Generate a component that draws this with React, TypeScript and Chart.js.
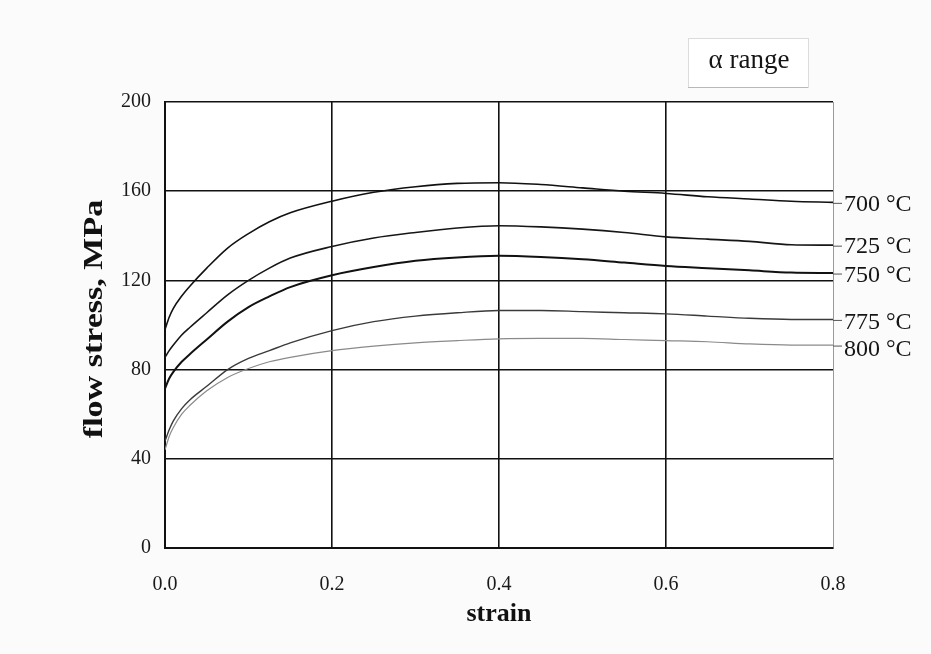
import React, { useEffect, useRef } from "react";
import { Chart, registerables } from "chart.js";

Chart.register(...registerables);

const strain = [0, 0.005, 0.01, 0.02, 0.03, 0.05, 0.075, 0.1, 0.125, 0.15, 0.2, 0.25, 0.3, 0.35, 0.4, 0.45, 0.5, 0.55, 0.6, 0.65, 0.7, 0.75, 0.8];

const stress700 = [98, 103.5, 107.5, 113, 117.5, 125.5, 134.5, 141, 146.3, 150.3, 155.5, 159.5, 162, 163.5, 163.8, 163, 161.5, 160, 159, 157.5, 156.5, 155.5, 155];
const stress725 = [85.5, 88.5, 91, 95.5, 99, 105.5, 113.5, 120, 125.5, 130, 135.2, 139, 141.5, 143.5, 144.5, 144, 143, 141.5, 139.5, 138.5, 137.5, 136, 135.8];
const stress750 = [71.5, 76, 79, 83.5, 87, 93.5, 101.5, 108, 112.8, 117, 122.3, 126, 128.8, 130.3, 131, 130.5, 129.5, 128, 126.5, 125.5, 124.5, 123.5, 123.3];
const stress775 = [48, 53, 57, 62.5, 66.5, 72.5, 80, 85, 88.5, 92, 97.5, 101.5, 104, 105.5, 106.5, 106.5, 106, 105.5, 105, 104, 103, 102.5, 102.5];
const stress800 = [44, 50, 54, 60, 64, 70.5, 76.5, 80.5, 83.5, 85.5, 88.5, 90.5, 92, 93, 93.8, 94, 94, 93.5, 93, 92.5, 91.5, 91, 91];

const seriesLabels = ["700 °C", "725 °C", "750 °C", "775 °C", "800 °C"];
const seriesValues = [stress700, stress725, stress750, stress775, stress800];
const seriesColors = ["#111111", "#161616", "#111111", "#3a3a3a", "#8a8a8a"];
const seriesWidths = [1.6, 1.6, 2, 1.4, 1.2];
const labelNudge = [0, 0, 1, 1, 3];

const xTicks = [0, 0.2, 0.4, 0.6, 0.8];
const yTicks = [0, 40, 80, 120, 160, 200];

const xTitle = "strain";
const yTitle = "flow stress, MPa";
const boxText = "α range";

const SERIF = "'Liberation Serif', 'DejaVu Serif', serif";

export default function App() {
  const ref = useRef<HTMLCanvasElement | null>(null);

  useEffect(() => {
    if (!ref.current) return;

    const decor = {
      id: "decor",
      beforeDraw(chart: any) {
        const { ctx, chartArea } = chart;
        ctx.save();
        ctx.fillStyle = "#fbfbfb";
        ctx.fillRect(0, 0, chart.width, chart.height);
        ctx.fillStyle = "#ffffff";
        ctx.fillRect(chartArea.left, chartArea.top, chartArea.right - chartArea.left, chartArea.bottom - chartArea.top);
        ctx.restore();
      },
      afterDraw(chart: any) {
        const { ctx, chartArea, scales } = chart;
        const ys = scales.y;
        ctx.save();
        // right-side series labels
        ctx.font = "24px " + SERIF;
        ctx.textBaseline = "middle";
        ctx.textAlign = "left";
        chart.data.datasets.forEach((ds: any, i: number) => {
          const last = ds.data[ds.data.length - 1];
          const y = ys.getPixelForValue(last.y) + 1;
          ctx.strokeStyle = "#555";
          ctx.lineWidth = 1;
          ctx.beginPath();
          ctx.moveTo(chartArea.right, y);
          ctx.lineTo(chartArea.right + 9, y);
          ctx.stroke();
          ctx.fillStyle = "#151515";
          ctx.fillText(seriesLabels[i], chartArea.right + 11, y + 1 + labelNudge[i]);
        });
        // y title, stretched along its length
        ctx.save();
        const cy = (chartArea.top + chartArea.bottom) / 2 - 6;
        ctx.translate(95, cy);
        ctx.rotate(-Math.PI / 2);
        ctx.scale(1.26, 1);
        ctx.font = "bold 27px " + SERIF;
        ctx.textAlign = "center";
        ctx.textBaseline = "middle";
        ctx.fillStyle = "#111";
        ctx.fillText(yTitle, 0, 0);
        ctx.restore();
        // alpha range box
        ctx.fillStyle = "#ffffff";
        ctx.fillRect(688, 38, 120, 49);
        ctx.strokeStyle = "#dcdcdc";
        ctx.lineWidth = 1;
        ctx.strokeRect(688.5, 38.5, 120, 49);
        ctx.strokeStyle = "#b8b8b8";
        ctx.beginPath();
        ctx.moveTo(688, 87.5);
        ctx.lineTo(808, 87.5);
        ctx.stroke();
        ctx.font = "27px " + SERIF;
        ctx.fillStyle = "#151515";
        ctx.textAlign = "center";
        ctx.textBaseline = "middle";
        ctx.fillText(boxText, 749, 61);
        ctx.restore();
      },
    };

    const chart = new Chart(ref.current, {
      type: "line",
      data: {
        datasets: seriesValues.map((vals, i) => ({
          label: seriesLabels[i],
          data: strain.map((s, j) => ({ x: s, y: vals[j] })),
          borderColor: seriesColors[i],
          borderWidth: seriesWidths[i],
          pointRadius: 0,
          fill: false,
          cubicInterpolationMode: "monotone" as const,
        })),
      },
      options: {
        responsive: false,
        animation: false,
        layout: { padding: { left: 0, top: 102, right: 98, bottom: 0 } },
        plugins: { legend: { display: false }, tooltip: { enabled: false } },
        scales: {
          x: {
            type: "linear",
            min: 0,
            max: 0.8,
            afterFit(scale: any) {
              scale.height = 106;
            },
            afterBuildTicks(scale: any) {
              scale.ticks = xTicks.map((v) => ({ value: v }));
            },
            ticks: {
              padding: 25,
              color: "#1a1a1a",
              font: { family: SERIF, size: 20 },
              callback: (v: any) => Number(v).toFixed(1),
              maxRotation: 0,
            },
            grid: {
              drawTicks: false,
              color: (c: any) => (c.tick && c.tick.value === 0.8 ? "#9a9a9a" : "#111111"),
              lineWidth: (c: any) => (c.tick && c.tick.value === 0.8 ? 1 : 1.6),
            },
            border: { display: true, color: "#111", width: 2 },
            title: {
              display: true,
              text: xTitle,
              color: "#111",
              font: { family: SERIF, size: 26, weight: "bold" },
              padding: { top: 0, bottom: 24 },
            },
          },
          y: {
            type: "linear",
            min: 0,
            max: 200,
            afterFit(scale: any) {
              scale.width = 165;
            },
            afterBuildTicks(scale: any) {
              scale.ticks = yTicks.map((v) => ({ value: v }));
            },
            ticks: {
              padding: 14,
              color: "#1a1a1a",
              font: { family: SERIF, size: 20 },
            },
            grid: {
              drawTicks: false,
              color: "#111111",
              lineWidth: 1.6,
            },
            border: { display: true, color: "#111", width: 2 },
          },
        },
      },
      plugins: [decor],
    });

    return () => chart.destroy();
  }, []);

  return (
    <div style={{ position: "fixed", left: 0, top: 0, width: 931, height: 654 }}>
      <canvas ref={ref} width={931} height={654} style={{ display: "block" }} />
    </div>
  );
}
